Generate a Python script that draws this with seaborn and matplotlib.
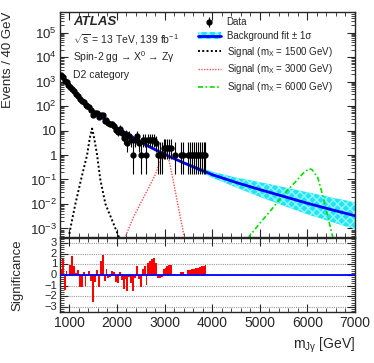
import numpy as np
import matplotlib
matplotlib.use('Agg')
import matplotlib.pyplot as plt
import seaborn as sns
from matplotlib.patches import Patch
from matplotlib.lines import Line2D
from matplotlib.ticker import LogLocator, MultipleLocator, FuncFormatter, NullFormatter

# --- data ---
# 40 GeV bins (centres)
bin_centers = list(range(820, 3861, 40))
counts = [1949, 1544, 1101, 924, 721, 603, 509, 396, 317, 266, 198, 163, 152, 113, 103,
          92, 71, 45, 51, 52, 35, 44, 43, 25, 27,
          20, 18, 19, 16, 11, 9, 12, 8, 5, 7, 3, 6, 4, 1, 4,
          6, 3, 1, 4, 4, 1, 4, 4, 4, 4,
          3, 1, 1, 1, 2, 2, 2, 2, 2, 0, 1, 0, 0, 1, 1,
          0, 0, 1, 1, 1, 1, 1, 1, 1, 1,
          1, 1]
significance = [0.6, 1.5, -1.4, 0.4, -0.1, 0.9, 1.8, 0.8, 0.2, 0.5, -1.1, -1.1, 0.3, -1.0, -0.1,
                0.4, -0.6, -2.5, -0.7, 0.5, -1.1, 1.3, 1.9, -0.6, 0.6,
                -0.3, -0.2, 0.4, 0.3, -0.7, -0.8, 0.3, -0.5, -1.3, -0.4, -1.5, -0.2, -0.8, -1.5, -0.3,
                0.8, -0.4, -1.1, 0.6, 0.8, -0.9, 1.1, 1.3, 1.5, 1.6,
                1.1, -0.3, -0.3, -0.2, 0.6, 0.7, 0.8, 0.9, 0.95, 0, 0.1, 0, 0, 0.25, 0.3,
                0, 0, 0.45, 0.5, 0.55, 0.6, 0.65, 0.7, 0.75, 0.8,
                0.85, 0.9]

# 68% Poisson intervals for small counts (n = 1..9)
poisson_lo = [0.173, 0.708, 1.367, 2.086, 2.840, 3.620, 4.419, 5.232, 6.057]
poisson_hi = [3.300, 4.638, 5.918, 7.163, 8.382, 9.584, 10.77, 11.95, 13.11]

# background fit and +-1 sigma band
fit_mass = [800, 900, 1000, 1100, 1200, 1300, 1400, 1600, 1800, 2000, 2250, 2500, 2750,
            3000, 3250, 3500, 3750, 4000, 4500, 5000, 5500, 6000, 6500, 7000]
fit_vals = [2190, 1148, 646, 380, 234, 148, 95.5, 44.7, 22.9, 12.9, 6.76, 3.31, 1.86,
            1.07, 0.646, 0.398, 0.251, 0.158, 0.0759, 0.0389, 0.0204, 0.0107, 0.00589, 0.00331]
band_factor = [1.047, 1.047, 1.047, 1.047, 1.047, 1.047, 1.047, 1.047, 1.047, 1.047, 1.047, 1.047, 1.047,
               1.072, 1.096, 1.148, 1.23, 1.318, 1.585, 1.995, 2.399, 2.818, 3.162, 3.548]

# signal shapes
sig1500_mass = [1000, 1021, 1126, 1246, 1372, 1430, 1478, 1530, 1583, 1650, 1758, 1968, 2050]
sig1500_vals = [6e-4, 1e-3, 1e-2, 0.1, 1.0, 5.0, 12.0, 4.0, 1.0, 0.1, 0.01, 1e-3, 4e-4]
sig3000_mass = [2150, 2200, 2350, 2500, 2650, 2800, 2900, 2980, 3020, 3080, 3160, 3230, 3300, 3360, 3420]
sig3000_vals = [3e-4, 6e-4, 3e-3, 0.011, 0.04, 0.15, 0.5, 1.3, 1.6, 0.8, 0.15, 0.03, 6e-3, 1.5e-3, 4e-4]
sig6000_mass = [4750, 5000, 5250, 5500, 5750, 5900, 6040, 6100, 6220, 6330, 6430, 6540]
sig6000_vals = [4e-4, 1.6e-3, 6e-3, 0.024, 0.08, 0.17, 0.28, 0.25, 0.12, 0.02, 3e-3, 4e-4]

# --- style ---
sns.set_style('ticks')
plt.rcParams['font.family'] = ['Liberation Sans', 'DejaVu Sans']
plt.rcParams['mathtext.fontset'] = 'custom'
plt.rcParams['mathtext.rm'] = 'Liberation Sans'
plt.rcParams['mathtext.it'] = 'Liberation Sans:italic'
plt.rcParams['mathtext.bf'] = 'Liberation Sans:bold'
plt.rcParams['mathtext.default'] = 'regular'

fig = plt.figure(figsize=(3.74, 3.63), dpi=100)
ax = fig.add_axes([0.160, 0.346, 0.789, 0.621])
ax2 = fig.add_axes([0.160, 0.140, 0.789, 0.205], sharex=ax)

ax.set_yscale('log')

# band + fit
fit_mass_a = np.array(fit_mass)
fit_vals_a = np.array(fit_vals)
band_a = np.array(band_factor)
band_kw = dict(facecolor='#20e4f2', edgecolor='#90f8ff', hatch='xxxx', linewidth=0)
ax.fill_between(fit_mass_a, fit_vals_a / band_a, fit_vals_a * band_a, **band_kw)
sns.lineplot(x=fit_mass, y=fit_vals, ax=ax, color='#0000ff', lw=2, zorder=4)

# signals
sns.lineplot(x=sig1500_mass, y=sig1500_vals, ax=ax, color='black', lw=1.4,
             linestyle=(0, (1, 1.2)), zorder=3)
sns.lineplot(x=sig3000_mass, y=sig3000_vals, ax=ax, color='#ff5050', lw=1.0,
             linestyle=(0, (1, 1)), zorder=3)
sns.lineplot(x=sig6000_mass, y=sig6000_vals, ax=ax, color='#00e000', lw=1.2,
             linestyle=(0, (3, 1.5, 1, 1.5)), zorder=3)

# data points
x_pts, y_pts, e_lo, e_hi = [], [], [], []
for m, n in zip(bin_centers, counts):
    if n <= 0:
        continue
    x_pts.append(m)
    y_pts.append(n)
    if n <= len(poisson_lo):
        e_lo.append(n - poisson_lo[n - 1])
        e_hi.append(poisson_hi[n - 1] - n)
    else:
        e_lo.append(np.sqrt(n))
        e_hi.append(np.sqrt(n) + 1)
h_data = ax.errorbar(x_pts, y_pts, yerr=[e_lo, e_hi], fmt='o', color='black', ms=3.5,
                     elinewidth=0.8, capsize=0, zorder=5)

ax.set_xlim(800, 7000)
ax.set_ylim(4.3e-4, 7e5)

def log_label(v, pos):
    e = int(round(np.log10(v)))
    if e == 0:
        return '1'
    if e == 1:
        return '10'
    return '10$^{%d}$' % e

ax.yaxis.set_major_locator(LogLocator(base=10, numticks=20))
ax.yaxis.set_minor_locator(LogLocator(base=10, subs=np.arange(2, 10), numticks=20))
ax.yaxis.set_major_formatter(FuncFormatter(log_label))
ax.yaxis.set_minor_formatter(NullFormatter())
ax.xaxis.set_major_locator(MultipleLocator(1000))
ax.xaxis.set_minor_locator(MultipleLocator(200))
ax.tick_params(axis='x', labelbottom=False)
for a in (ax, ax2):
    a.tick_params(which='both', direction='in', top=True, right=True)
    a.tick_params(which='major', length=6, width=0.8)
    a.tick_params(which='minor', length=3, width=0.6)
    for s in a.spines.values():
        s.set_linewidth(1.0)
ax.tick_params(axis='y', labelsize=9.5, pad=2)

ax.set_ylabel('Events / 40 GeV', fontsize=9.5, loc='top')
ax.yaxis.set_label_coords(-0.155, 1.0)

# labels
ax.text(0.044, 0.955, 'ATLAS', transform=ax.transAxes, fontsize=9.5, fontweight='bold',
        fontstyle='italic', va='center')
ax.text(0.044, 0.877, r'$\sqrt{s}$ = 13 TeV, 139 fb$^{-1}$', transform=ax.transAxes,
        fontsize=7.5, va='center')
ax.text(0.044, 0.800, 'Spin-2 gg → X$^{0}$ → Zγ', transform=ax.transAxes,
        fontsize=7.5, va='center')
ax.text(0.044, 0.722, 'D2 category', transform=ax.transAxes, fontsize=7.5, va='center')

h_bkg = (Patch(**band_kw), Line2D([], [], color='#0000ff', lw=2))
h_s1 = Line2D([], [], color='black', lw=1.4, linestyle=(0, (1, 1.2)))
h_s2 = Line2D([], [], color='#ff5050', lw=1.0, linestyle=(0, (1, 1)))
h_s3 = Line2D([], [], color='#00e000', lw=1.2, linestyle=(0, (3, 1.5, 1, 1.5)))
ax.legend([h_data, h_bkg, h_s1, h_s2, h_s3],
          ['Data', 'Background fit ± 1σ', 'Signal (m$_X$ = 1500 GeV)',
           'Signal (m$_X$ = 3000 GeV)', 'Signal (m$_X$ = 6000 GeV)'],
          loc='upper left', bbox_to_anchor=(0.46, 0.985), frameon=False, fontsize=7,
          handlelength=2.4, labelspacing=0.38, handletextpad=0.6, borderaxespad=0,
          borderpad=0.2)

# significance panel
for yv in range(-3, 4):
    ax2.axhline(yv, color='#999999', lw=0.8, linestyle=(0, (1, 1)), zorder=0)
ax2.bar(bin_centers, significance, width=40, color='#ff0000', linewidth=0, zorder=2)
ax2.axhline(0, color='#0000ff', lw=1.3, zorder=3)
ax2.set_ylim(-3.5, 3.5)
ax2.yaxis.set_major_locator(MultipleLocator(1))
ax2.yaxis.set_minor_locator(MultipleLocator(0.2))
ax2.tick_params(axis='y', labelsize=8, pad=2)
ax2.tick_params(axis='x', labelsize=10, pad=3)
ax2.set_yticks([-3, -2, -1, 0, 1, 2, 3])
ax2.set_yticklabels(['−3', '−2', '−1', '0', '1', '2', '3'])
for i, lab in enumerate(ax2.get_yticklabels()):
    lab.set_va('center')
ax2.set_ylabel('Significance', fontsize=9.5)
ax2.yaxis.set_label_coords(-0.125, 0.5)
ax2.set_xlabel('m$_{Jγ}$ [GeV]', fontsize=10, loc='right')

fig.savefig('out.png', dpi=100)
